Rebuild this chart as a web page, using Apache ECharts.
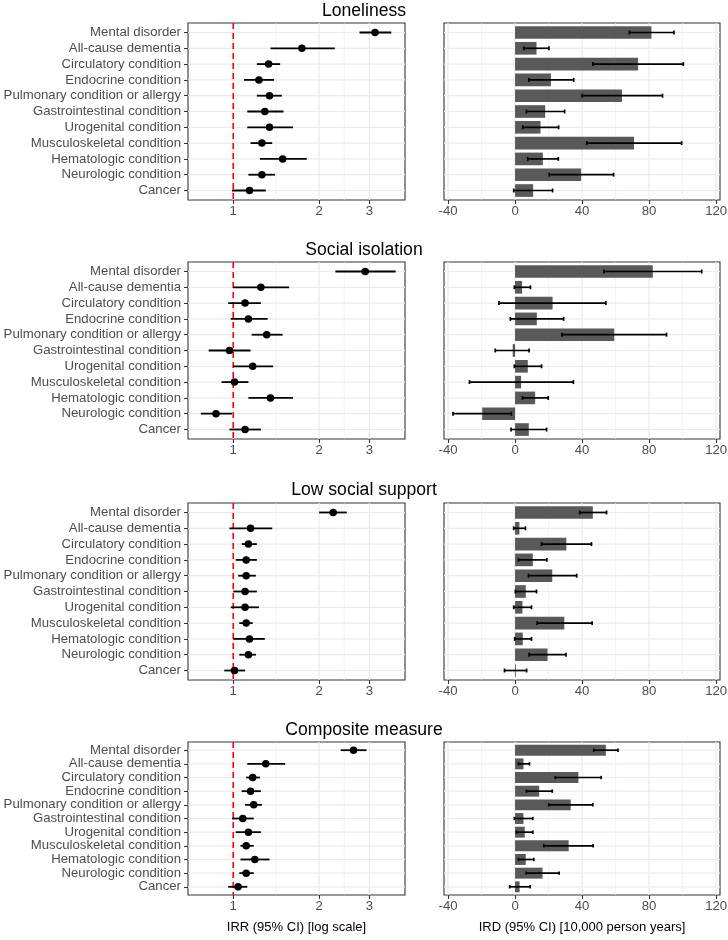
<!DOCTYPE html>
<html><head><meta charset="utf-8">
<script src="https://cdn.jsdelivr.net/npm/echarts@6/dist/echarts.min.js"></script>
<style>html,body{margin:0;padding:0;background:#fff}#c{width:728px;height:940px}</style>
</head><body><div id="c"></div>
<script>
// ---------- DATA ----------
const categories = ['Mental disorder','All-cause dementia','Circulatory condition','Endocrine condition',
  'Pulmonary condition or allergy','Gastrointestinal condition','Urogenital condition',
  'Musculoskeletal condition','Hematologic condition','Neurologic condition','Cancer'];
const measureNames = ['Loneliness','Social isolation','Low social support','Composite measure'];
const irrTicks = [1, 2, 3];
const irdTicks = [-40, 0, 40, 80, 120];
const irdMinorTicks = [-20, 20, 60, 100];

const lonelinessIRR     = [3.14, 1.74, 1.33, 1.23, 1.34, 1.29, 1.34, 1.26, 1.49, 1.26, 1.14];
const lonelinessIRRLow  = [2.77, 1.35, 1.21, 1.09, 1.21, 1.12, 1.12, 1.15, 1.24, 1.13, 0.99];
const lonelinessIRRHigh = [3.58, 2.27, 1.46, 1.39, 1.48, 1.50, 1.62, 1.37, 1.81, 1.40, 1.30];
const lonelinessIRD     = [81.4, 12.8, 73.4, 21.4, 63.8, 18.0, 15.2, 71.0, 16.6, 39.4, 10.8];
const lonelinessIRDLow  = [68.2, 5.2, 46.4, 8.2, 40.0, 6.8, 4.6, 42.8, 7.6, 20.4, -0.8];
const lonelinessIRDHigh = [94.8, 20.2, 100.4, 35.0, 88.0, 29.6, 26.0, 99.4, 25.8, 58.8, 22.4];

const isolationIRR     = [2.90, 1.25, 1.10, 1.13, 1.31, 0.97, 1.17, 1.01, 1.35, 0.87, 1.10];
const isolationIRRLow  = [2.28, 1.00, 0.96, 0.98, 1.16, 0.82, 1.00, 0.91, 1.13, 0.77, 0.97];
const isolationIRRHigh = [3.71, 1.57, 1.25, 1.32, 1.49, 1.15, 1.38, 1.13, 1.62, 0.99, 1.25];
const isolationIRD     = [82.2, 4.2, 22.4, 13.0, 59.2, -1.4, 7.6, 3.6, 12.0, -19.6, 8.2];
const isolationIRDLow  = [53.0, -0.4, -9.6, -2.8, 28.0, -11.8, -0.4, -27.2, 4.4, -37.0, -2.4];
const isolationIRDHigh = [111.4, 9.2, 54.2, 29.0, 90.4, 8.4, 15.8, 34.8, 19.8, -2.2, 18.8];

const supportIRR     = [2.24, 1.15, 1.13, 1.11, 1.11, 1.10, 1.10, 1.11, 1.14, 1.13, 1.01];
const supportIRRLow  = [2.00, 0.97, 1.07, 1.02, 1.04, 1.00, 0.98, 1.05, 1.00, 1.05, 0.93];
const supportIRRHigh = [2.50, 1.37, 1.21, 1.21, 1.20, 1.21, 1.23, 1.17, 1.29, 1.20, 1.10];
const supportIRD     = [46.4, 2.6, 30.6, 10.6, 22.2, 6.4, 4.4, 29.4, 4.6, 19.4, 0.5];
const supportIRDLow  = [38.6, -0.8, 15.8, 2.0, 8.0, 0.2, -0.8, 13.2, -0.2, 8.4, -6.3];
const supportIRDHigh = [54.6, 6.2, 45.6, 19.0, 36.8, 12.8, 9.8, 46.0, 9.8, 30.4, 6.9];

const compositeIRR     = [2.64, 1.30, 1.17, 1.15, 1.18, 1.08, 1.13, 1.11, 1.19, 1.11, 1.04];
const compositeIRRLow  = [2.38, 1.12, 1.11, 1.07, 1.10, 0.99, 1.02, 1.06, 1.06, 1.05, 0.96];
const compositeIRRHigh = [2.93, 1.52, 1.24, 1.25, 1.26, 1.18, 1.25, 1.18, 1.34, 1.18, 1.12];
const compositeIRD     = [54.2, 5.0, 37.8, 14.4, 33.2, 5.0, 5.8, 32.0, 6.4, 16.4, 2.7];
const compositeIRDLow  = [47.0, 2.0, 24.0, 6.8, 20.2, -0.4, 0.8, 17.2, 2.0, 6.6, -3.2];
const compositeIRDHigh = [61.4, 8.6, 51.4, 22.2, 46.4, 10.6, 10.6, 46.6, 11.2, 26.3, 9.0];

// ---------- BUILD ----------
const panels = [
  {irr: lonelinessIRR, lo: lonelinessIRRLow, hi: lonelinessIRRHigh, ird: lonelinessIRD, dlo: lonelinessIRDLow, dhi: lonelinessIRDHigh},
  {irr: isolationIRR, lo: isolationIRRLow, hi: isolationIRRHigh, ird: isolationIRD, dlo: isolationIRDLow, dhi: isolationIRDHigh},
  {irr: supportIRR, lo: supportIRRLow, hi: supportIRRHigh, ird: supportIRD, dlo: supportIRDLow, dhi: supportIRDHigh},
  {irr: compositeIRR, lo: compositeIRRLow, hi: compositeIRRHigh, ird: compositeIRD, dlo: compositeIRDLow, dhi: compositeIRDHigh}
];
const FONT = '"Liberation Sans", Arial, sans-serif';
const lg = v => Math.log(v) / Math.LN10;
const irrMajorLog = irrTicks.map(lg);
const irrMinorLog = (function () {
  const m = [irrMajorLog[0] - (irrMajorLog[1] - irrMajorLog[0]) / 2];
  for (let i = 0; i < irrMajorLog.length - 1; i++) m.push((irrMajorLog[i] + irrMajorLog[i + 1]) / 2);
  return m;
})();
const rowIdx = categories.map((c, i) => i);
const irrMin = -0.1586, irrMax = 0.602;
const irdMin = -42.4, irdMax = 122.3;
const yMin = -0.6, yMax = categories.length - 0.4;
const tops = [23, 262, 503, 742];
const heights = [177, 177, 177, 153];
const titleTops = [2, 241, 481, 721];

const tickStyle = {show: true, length: 4, lineStyle: {color: '#333333', width: 1.07}};
const labelStyle = {color: '#4D4D4D', fontSize: 13.2, fontFamily: FONT};
const GRIDCOL = '#EBEBEB';

const grid = [], xAxis = [], yAxis = [], series = [], title = [];

// grid lines drawn through the axes' scales
function gridLines(xi, yi, xMajor, xMinor, x0, x1) {
  const data = [];
  xMajor.forEach(v => data.push([0, v, 1.2]));
  xMinor.forEach(v => data.push([0, v, 0.6]));
  rowIdx.forEach(v => data.push([1, v, 1.2]));
  return {type: 'custom', xAxisIndex: xi, yAxisIndex: yi, z: 1, silent: true, clip: true,
    data: data, encode: {x: 1},
    renderItem: (params, api) => {
      const dir = api.value(0), v = api.value(1), w = api.value(2);
      let a, b;
      if (dir === 0) { a = api.coord([v, yMin]); b = api.coord([v, yMax]); }
      else { a = api.coord([x0, v]); b = api.coord([x1, v]); }
      return {type: 'line', shape: {x1: a[0], y1: a[1], x2: b[0], y2: b[1]},
        style: {stroke: GRIDCOL, lineWidth: w}};
    }};
}

panels.forEach((p, k) => {
  const last = k === panels.length - 1;
  title.push({text: measureNames[k], left: 'center', top: titleTops[k], padding: 0,
    textStyle: {fontSize: 17.6, fontWeight: 'normal', color: '#000', fontFamily: FONT}});
  const gl = grid.length;
  grid.push({left: 188, width: 217, top: tops[k], height: heights[k], show: true,
    borderColor: '#333333', borderWidth: 1.1, backgroundColor: 'transparent', outerBoundsMode: 'none', containLabel: false});
  const gr = grid.length;
  grid.push({left: 444, width: 276, top: tops[k], height: heights[k], show: true,
    borderColor: '#333333', borderWidth: 1.1, backgroundColor: 'transparent', outerBoundsMode: 'none', containLabel: false});

  const xl = xAxis.length;
  xAxis.push({type: 'value', gridIndex: gl, min: irrMin, max: irrMax, position: 'bottom',
    axisLine: {show: false, onZero: false},
    axisTick: Object.assign({}, tickStyle, {customValues: irrMajorLog}),
    axisLabel: Object.assign({}, labelStyle, {margin: 5, customValues: irrMajorLog,
      formatter: v => String(Math.round(Math.pow(10, v)))}),
    splitLine: {show: false},
    name: last ? 'IRR (95% CI) [log scale]' : '', nameLocation: 'middle', nameGap: 26, nameMoveOverlap: false,
    nameTextStyle: {color: '#000', fontSize: 13, fontFamily: FONT}});
  const xr = xAxis.length;
  xAxis.push({type: 'value', gridIndex: gr, min: irdMin, max: irdMax, position: 'bottom',
    axisLine: {show: false, onZero: false},
    axisTick: Object.assign({}, tickStyle, {customValues: irdTicks}),
    axisLabel: Object.assign({}, labelStyle, {margin: 5, customValues: irdTicks}),
    splitLine: {show: false},
    name: last ? 'IRD (95% CI) [10,000 person years]' : '', nameLocation: 'middle', nameGap: 26, nameMoveOverlap: false,
    nameTextStyle: {color: '#000', fontSize: 13, fontFamily: FONT}});

  const yl = yAxis.length;
  yAxis.push({type: 'value', gridIndex: gl, inverse: true, min: yMin, max: yMax, position: 'left',
    axisLine: {show: false, onZero: false},
    axisTick: Object.assign({}, tickStyle, {customValues: rowIdx}),
    axisLabel: Object.assign({}, labelStyle, {margin: 7, customValues: rowIdx,
      formatter: v => categories[Math.round(v)]}),
    splitLine: {show: false}});
  const yr = yAxis.length;
  yAxis.push({type: 'value', gridIndex: gr, inverse: true, min: yMin, max: yMax, position: 'left',
    axisLine: {show: false, onZero: false}, axisTick: {show: false},
    axisLabel: {show: false}, splitLine: {show: false}});

  series.push(gridLines(xl, yl, irrMajorLog, irrMinorLog, irrMin, irrMax));
  series.push(gridLines(xr, yr, irdTicks, irdMinorTicks, irdMin, irdMax));

  // reference line at IRR = 1
  series.push({type: 'custom', xAxisIndex: xl, yAxisIndex: yl, z: 2, silent: true,
    data: [[lg(1), yMin, yMax]], encode: {x: 0, y: [1, 2]},
    renderItem: (params, api) => {
      const a = api.coord([api.value(0), api.value(1)]);
      const b = api.coord([api.value(0), api.value(2)]);
      return {type: 'line', shape: {x1: a[0], y1: a[1], x2: b[0], y2: b[1]},
        style: {stroke: '#FF0000', lineWidth: 1.6, lineDash: [6, 4]}};
    }});
  // IRR CI lines
  series.push({type: 'custom', xAxisIndex: xl, yAxisIndex: yl, z: 3, silent: true,
    data: rowIdx.map(i => [lg(p.lo[i]), lg(p.hi[i]), i]), encode: {x: [0, 1], y: 2},
    renderItem: (params, api) => {
      const a = api.coord([api.value(0), api.value(2)]);
      const b = api.coord([api.value(1), api.value(2)]);
      return {type: 'line', shape: {x1: a[0], y1: a[1], x2: b[0], y2: b[1]},
        style: {stroke: '#000', lineWidth: 1.8}};
    }});
  // IRR points
  series.push({type: 'scatter', xAxisIndex: xl, yAxisIndex: yl, z: 4, silent: true,
    symbolSize: 7.5, itemStyle: {color: '#000', opacity: 1},
    data: rowIdx.map(i => [lg(p.irr[i]), i])});
  // IRD bars
  series.push({type: 'custom', xAxisIndex: xr, yAxisIndex: yr, z: 2, silent: true,
    data: rowIdx.map(i => [p.ird[i], i]), encode: {x: 0, y: 1},
    renderItem: (params, api) => {
      const a = api.coord([0, api.value(1)]);
      const b = api.coord([api.value(0), api.value(1)]);
      const h = Math.abs(api.size([0, 1])[1]) * 0.8;
      return {type: 'rect', shape: {x: Math.min(a[0], b[0]), y: a[1] - h / 2, width: Math.abs(b[0] - a[0]), height: h},
        style: {fill: '#595959'}};
    }});
  // IRD error bars
  series.push({type: 'custom', xAxisIndex: xr, yAxisIndex: yr, z: 3, silent: true,
    data: rowIdx.map(i => [p.dlo[i], p.dhi[i], i]), encode: {x: [0, 1], y: 2},
    renderItem: (params, api) => {
      const a = api.coord([api.value(0), api.value(2)]);
      const b = api.coord([api.value(1), api.value(2)]);
      const c = Math.abs(api.size([0, 1])[1]) * 0.125;
      const st = {stroke: '#000', lineWidth: 1.7};
      return {type: 'group', children: [
        {type: 'line', shape: {x1: a[0], y1: a[1], x2: b[0], y2: b[1]}, style: st},
        {type: 'line', shape: {x1: a[0], y1: a[1] - c, x2: a[0], y2: a[1] + c}, style: st},
        {type: 'line', shape: {x1: b[0], y1: b[1] - c, x2: b[0], y2: b[1] + c}, style: st}
      ]};
    }});
});

const chart = echarts.init(document.getElementById('c'), null, {renderer: 'canvas'});
chart.setOption({animation: false, backgroundColor: '#ffffff', title, grid, xAxis, yAxis, series});
</script>
</body></html>
